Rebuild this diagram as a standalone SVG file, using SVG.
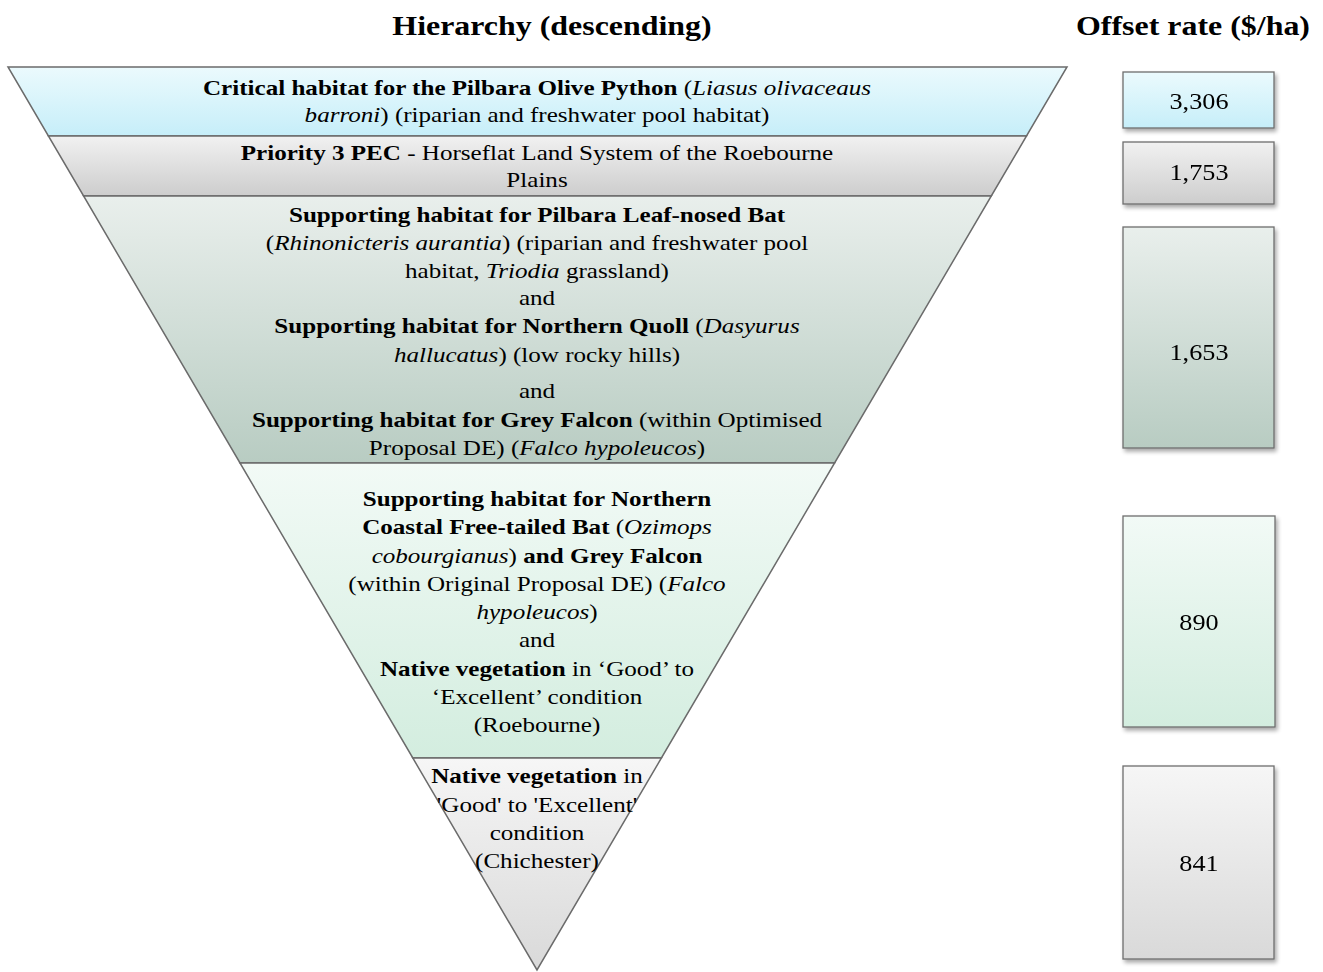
<svg xmlns="http://www.w3.org/2000/svg" width="1323" height="972" viewBox="0 0 1323 972">
  <style>
    text { font-family: "Liberation Serif", "Times New Roman", serif; fill: #000; }
    .hdr { font-size: 28px; font-weight: bold; text-anchor: middle; }
    .t { font-size: 22px; text-anchor: middle; }
    .num { font-size: 23px; text-anchor: middle; }
    .b { font-weight: bold; }
    .i { font-style: italic; }
    .band { stroke: #6b6b6b; stroke-width: 1.5; stroke-linejoin: miter; }
    .box { stroke: #6e6e6e; stroke-width: 1.3; }
  </style>
  <defs>
    <linearGradient id="gCyan" x1="0" y1="0" x2="0" y2="1">
      <stop offset="0" stop-color="#ebfafd"/>
      <stop offset="1" stop-color="#c6eef9"/>
    </linearGradient>
    <linearGradient id="gGrey" x1="0" y1="0" x2="0" y2="1">
      <stop offset="0" stop-color="#f1f1f1"/>
      <stop offset="1" stop-color="#cdcdcd"/>
    </linearGradient>
    <linearGradient id="gSage" x1="0" y1="0" x2="0" y2="1">
      <stop offset="0" stop-color="#e9efec"/>
      <stop offset="1" stop-color="#b8ccc2"/>
    </linearGradient>
    <linearGradient id="gMint" x1="0" y1="0" x2="0" y2="1">
      <stop offset="0" stop-color="#f2faf6"/>
      <stop offset="1" stop-color="#d3eddf"/>
    </linearGradient>
    <linearGradient id="gPale" x1="0" y1="0" x2="0" y2="1">
      <stop offset="0" stop-color="#f6f6f6"/>
      <stop offset="1" stop-color="#d9d9d9"/>
    </linearGradient>
    <filter id="shadow" x="-10%" y="-10%" width="125%" height="125%">
      <feGaussianBlur in="SourceAlpha" stdDeviation="2"/>
      <feOffset dx="1.5" dy="2.5" result="o"/>
      <feComponentTransfer><feFuncA type="linear" slope="0.35"/></feComponentTransfer>
      <feMerge><feMergeNode/><feMergeNode in="SourceGraphic"/></feMerge>
    </filter>
  </defs>

  <!-- column headings -->
  <g id="headings">
    <text class="hdr" transform="translate(552 35) scale(1.14 1)">Hierarchy (descending)</text>
    <text class="hdr" transform="translate(1193 35) scale(1.14 1)">Offset rate ($/ha)</text>
  </g>

  <!-- inverted triangle, split into horizontal bands -->
  <g id="tier1">
    <polygon class="band" fill="url(#gCyan)" points="8,67 1067,67 1026.5,136 48.4,136"/>
    <g transform="translate(537 0) scale(1.14 1)">
      <text class="t" y="95"><tspan class="b">Critical habitat for the Pilbara Olive Python</tspan> (<tspan class="i">Liasus olivaceaus</tspan></text>
      <text class="t" y="122"><tspan class="i">barroni</tspan>) (riparian and freshwater pool habitat)</text>
    </g>
  </g>

  <g id="tier2">
    <polygon class="band" fill="url(#gGrey)" points="48.4,136 1026.5,136 991.3,196 83.6,196"/>
    <g transform="translate(537 0) scale(1.14 1)">
      <text class="t" y="160"><tspan class="b">Priority 3 PEC</tspan> - Horseflat Land System of the Roebourne</text>
      <text class="t" y="187">Plains</text>
    </g>
  </g>

  <g id="tier3">
    <polygon class="band" fill="url(#gSage)" points="83.6,196 991.3,196 834.6,463 240,463"/>
    <g transform="translate(537 0) scale(1.14 1)">
      <text class="t" y="222"><tspan class="b">Supporting habitat for Pilbara Leaf-nosed Bat</tspan></text>
      <text class="t" y="250">(<tspan class="i">Rhinonicteris aurantia</tspan>) (riparian and freshwater pool</text>
      <text class="t" y="278">habitat, <tspan class="i">Triodia</tspan> grassland)</text>
      <text class="t" y="305">and</text>
      <text class="t" y="333"><tspan class="b">Supporting habitat for Northern Quoll</tspan> (<tspan class="i">Dasyurus</tspan></text>
      <text class="t" y="362"><tspan class="i">hallucatus</tspan>) (low rocky hills)</text>
      <text class="t" y="398">and</text>
      <text class="t" y="427"><tspan class="b">Supporting habitat for Grey Falcon</tspan> (within Optimised</text>
      <text class="t" y="455">Proposal DE) (<tspan class="i">Falco hypoleucos</tspan>)</text>
    </g>
  </g>

  <g id="tier4">
    <polygon class="band" fill="url(#gMint)" points="240,463 834.6,463 661.4,758 412.8,758"/>
    <g transform="translate(537 0) scale(1.14 1)">
      <text class="t" y="506"><tspan class="b">Supporting habitat for Northern</tspan></text>
      <text class="t" y="534"><tspan class="b">Coastal Free-tailed Bat</tspan> (<tspan class="i">Ozimops</tspan></text>
      <text class="t" y="563"><tspan class="i">cobourgianus</tspan>) <tspan class="b">and Grey Falcon</tspan></text>
      <text class="t" y="591">(within Original Proposal DE) (<tspan class="i">Falco</tspan></text>
      <text class="t" y="619"><tspan class="i">hypoleucos</tspan>)</text>
      <text class="t" y="647">and</text>
      <text class="t" y="676"><tspan class="b">Native vegetation</tspan> in ‘Good’ to</text>
      <text class="t" y="704">‘Excellent’ condition</text>
      <text class="t" y="732">(Roebourne)</text>
    </g>
  </g>

  <g id="tier5">
    <polygon class="band" fill="url(#gPale)" points="412.8,758 661.4,758 537,970"/>
    <g transform="translate(537 0) scale(1.14 1)">
      <text class="t" y="783"><tspan class="b">Native vegetation</tspan> in</text>
      <text class="t" y="812">'Good' to 'Excellent'</text>
      <text class="t" y="840">condition</text>
      <text class="t" y="868">(Chichester)</text>
    </g>
  </g>

  <!-- offset rate boxes -->
  <g id="rate1" filter="url(#shadow)">
    <rect class="box" fill="url(#gCyan)" x="1123" y="72" width="151" height="56"/>
    <text class="num" transform="translate(1199 109) scale(1.14 1)">3,306</text>
  </g>
  <g id="rate2" filter="url(#shadow)">
    <rect class="box" fill="url(#gGrey)" x="1123" y="142" width="151" height="62"/>
    <text class="num" transform="translate(1199 180) scale(1.14 1)">1,753</text>
  </g>
  <g id="rate3" filter="url(#shadow)">
    <rect class="box" fill="url(#gSage)" x="1123" y="227" width="151" height="221"/>
    <text class="num" transform="translate(1199 360) scale(1.14 1)">1,653</text>
  </g>
  <g id="rate4" filter="url(#shadow)">
    <rect class="box" fill="url(#gMint)" x="1123" y="516" width="152" height="211"/>
    <text class="num" transform="translate(1199 630) scale(1.14 1)">890</text>
  </g>
  <g id="rate5" filter="url(#shadow)">
    <rect class="box" fill="url(#gPale)" x="1123" y="766" width="151" height="193"/>
    <text class="num" transform="translate(1199 871) scale(1.14 1)">841</text>
  </g>

  <!-- no connectors between the tiers and the rate boxes -->
  <g id="connectors"/>
</svg>
